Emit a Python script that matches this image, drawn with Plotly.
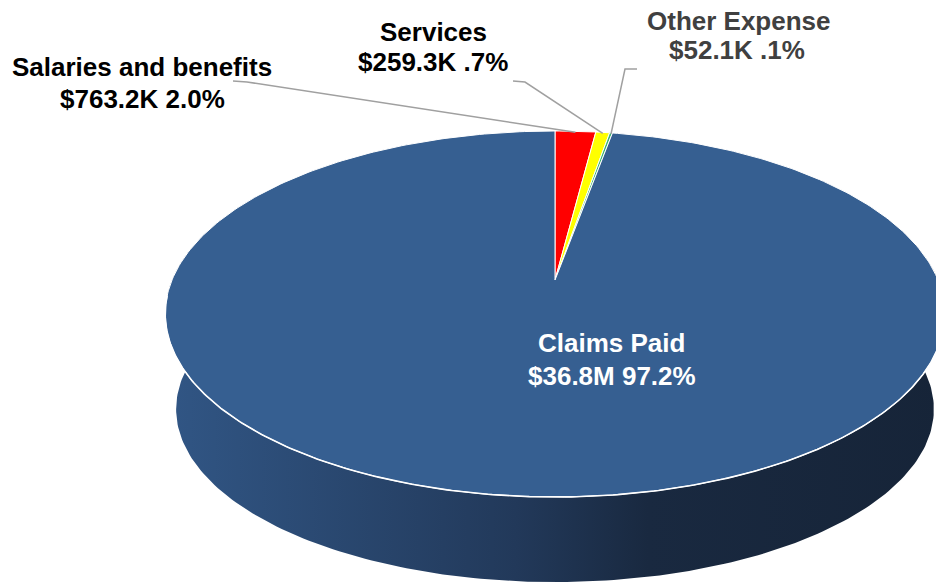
import numpy as np
import plotly.graph_objects as go

# ---------------- data ----------------
categories = ["Salaries and benefits", "Services", "Other Expense", "Claims Paid"]
values_k = [763.2, 259.3, 52.1, 36800.0]          # thousands of dollars
slice_colors = ["#FF0000", "#FFFF00", "#3CB371", "#365F91"]
label_colors = ["#000000", "#000000", "#404040", "#FFFFFF"]

# ---------------- label text ----------------
def money(v):
    return f"${v/1000:.1f}M" if v >= 1000 else f"${v:.1f}K"

def pct(p):
    s = f"{p:.1f}%"
    return s[1:] if s.startswith("0.") else s

total = sum(values_k)
shares = [v / total for v in values_k]
line2 = [f"{money(v)} {pct(100*s)}" for v, s in zip(values_k, shares)]

# ---------------- projection (3D tilted disc) ----------------
CX, CY = 555.0, 280.0       # pie centre on screen
A, B, K = 383.0, 176.7, 0.1858
S_BOT, YB, B2 = 0.972, 377.0, 167.0

def top_pt(theta):
    u, v = np.sin(theta), -np.cos(theta)
    d = 1 - K * v
    return CX + A * u / d, CY + B * v / d

def bot_pt(theta):
    u, v = np.sin(theta), -np.cos(theta)
    d = 1 - K * v
    return CX + S_BOT * A * u / d, YB + B2 * v / d

bounds = np.concatenate([[0.0], np.cumsum(shares)]) * 2 * np.pi
VIS0, VIS1 = np.radians(82), np.radians(278)

fig = go.Figure()

# side walls (only the front, visible part)
for i in range(len(values_k)):
    a0, a1 = max(bounds[i], VIS0), min(bounds[i + 1], VIS1)
    if a1 <= a0:
        continue
    th = np.linspace(a0, a1, 200)
    tx, ty = top_pt(th)
    bx, by = bot_pt(th[::-1])
    fig.add_trace(go.Scatter(
        x=np.concatenate([tx, bx]), y=np.concatenate([ty, by]),
        mode="lines", fill="toself", line=dict(width=0),
        fillgradient=dict(type="horizontal",
                          colorscale=[[0, "rgb(49,86,133)"], [0.45, "rgb(34,57,90)"],
                                      [0.62, "rgb(25,41,64)"], [1, "rgb(22,36,56)"]]),
        hoverinfo="skip", showlegend=False))

# top face slices
for i in range(len(values_k)):
    th = np.linspace(bounds[i], bounds[i + 1], max(3, int(400 * shares[i]) + 3))
    x, y = top_pt(th)
    fig.add_trace(go.Scatter(
        x=np.concatenate([[CX], x, [CX]]), y=np.concatenate([[CY], y, [CY]]),
        mode="lines", fill="toself", fillcolor=slice_colors[i],
        line=dict(color="white", width=1), name=categories[i],
        hoverinfo="name", showlegend=False))

# white rim edge along the front
th = np.linspace(np.radians(95), np.radians(265), 300)
rx, ry = top_pt(th)
fig.add_trace(go.Scatter(x=rx, y=ry, mode="lines",
                         line=dict(color="white", width=1.6),
                         hoverinfo="skip", showlegend=False))

# leader lines from labels to slice mid-points on the rim
elbows = {0: [(233, 81), (247, 82)], 1: [(513, 81), (525, 82)], 2: [(637, 69), (625, 69)]}
for i, pts in elbows.items():
    mx, my = top_pt((bounds[i] + bounds[i + 1]) / 2)
    xs = [p[0] for p in pts] + [float(mx)]
    ys = [p[1] for p in pts] + [float(my) + 1]
    fig.add_trace(go.Scatter(x=xs, y=ys, mode="lines",
                             line=dict(color="#A0A0A0", width=1.5),
                             hoverinfo="skip", showlegend=False))

# labels (two lines each)
label_pos = [((142, 67), (142, 99)), ((433, 32), (433, 62)),
             ((739, 21), (737, 50)), ((611, 343), (612, 376))]
FONT = "Liberation Sans, Arial, sans-serif"
for i in range(len(values_k)):
    (x1, y1), (x2, y2) = label_pos[i]
    for (xx, yy), txt in (((x1, y1), categories[i]), ((x2, y2), line2[i])):
        fig.add_annotation(x=xx, y=yy, text=f"<b>{txt}</b>", showarrow=False,
                           xanchor="center", yanchor="middle",
                           font=dict(family=FONT, size=26, color=label_colors[i]))

fig.update_layout(
    width=936, height=586, margin=dict(l=0, r=0, t=0, b=0),
    paper_bgcolor="white", plot_bgcolor="white",
    xaxis=dict(range=[0, 936], visible=False, fixedrange=True),
    yaxis=dict(range=[586, 0], visible=False, fixedrange=True),
)

fig.write_html("out.html", config={"displayModeBar": False},
               post_script="document.body.style.margin='0';")
